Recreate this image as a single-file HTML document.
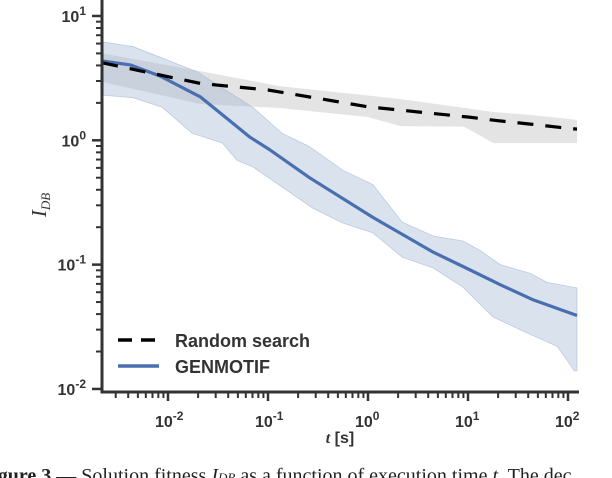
<!DOCTYPE html>
<html><head><meta charset="utf-8"><style>
html,body{margin:0;padding:0;background:#fff;width:612px;height:478px;overflow:hidden}
svg text{font-family:"Liberation Sans",sans-serif}
</style></head><body>
<svg width="612" height="478" viewBox="0 0 612 478">
<defs><clipPath id="pc"><rect x="102" y="0" width="478" height="392"/></clipPath></defs>
<g id="bands" clip-path="url(#pc)"></g>
<g id="lines" clip-path="url(#pc)"></g>
<g id="axes"></g>
<g>
 <line x1="118" y1="340" x2="159" y2="340" stroke="#000" stroke-width="3.5" stroke-dasharray="14,9"/>
 <text x="175" y="347" font-size="18" fill="#333" font-weight="bold">Random search</text>
 <line x1="118" y1="366" x2="159" y2="366" stroke="#4a6fb0" stroke-width="3.5"/>
 <text x="175" y="373" font-size="18" fill="#333" font-weight="bold">GENMOTIF</text>
</g>
<text transform="translate(46,205) rotate(-90)" text-anchor="middle" font-size="21" font-style="italic" fill="#333" style="font-family:'Liberation Serif',serif">I<tspan font-size="13" dy="4">DB</tspan></text>
<text x="340" y="443" text-anchor="middle" font-size="16" font-weight="bold" fill="#333"><tspan font-style="italic" style="font-family:'Liberation Serif',serif">t</tspan> [s]</text>
<text x="-20" y="482" font-size="20" fill="#222" style="font-family:'Liberation Serif',serif"><tspan font-weight="bold">Figure 3</tspan> — Solution fitness <tspan font-style="italic">I</tspan><tspan font-size="13" font-style="italic">DB</tspan> as a function of execution time <tspan font-style="italic">t</tspan>. The dec</text>
</svg>
<script>
const rsT=[0.0022,0.01,0.021,0.1,0.13,1,2.1,9,10,18,42,100,123];
const rsMean=[4.2,3.25,2.87,2.54,2.45,1.86,1.75,1.55,1.54,1.45,1.35,1.25,1.23];
const rsUpT=[0.0022,0.021,0.13,2.1,18,42,123];
const rsUp=[5.0,3.6,2.73,2.15,1.69,1.6,1.46];
const rsLoT=[0.0022,0.021,0.13,1.0,2.1,9.1,18,123];
const rsLo=[2.95,1.96,1.82,1.54,1.30,1.29,0.95,0.95];
const gmT=[0.0022,0.0042,0.0083,0.021,0.066,0.105,0.26,1.12,4.5,9.8,21,45,123];
const gmMean=[4.35,4.04,3.29,2.24,1.06,0.835,0.5,0.24,0.126,0.093,0.069,0.052,0.039];
const gmUpT=[0.0022,0.0045,0.0195,0.072,0.138,0.26,0.56,1.12,2.2,4.5,8.9,13.2,21,42,62,123];
const gmUp=[6.2,5.66,3.56,1.82,1.14,0.89,0.575,0.44,0.22,0.17,0.155,0.13,0.10,0.085,0.072,0.065];
const gmLoT=[0.0022,0.0045,0.0087,0.0174,0.035,0.049,0.071,0.28,0.56,1.12,2.2,4.5,8.9,17.8,33,78,98,115,123];
const gmLo=[2.31,2.2,1.85,1.14,0.95,0.69,0.61,0.285,0.216,0.18,0.115,0.094,0.066,0.038,0.030,0.022,0.017,0.014,0.014];
const xTicks=[0.01,0.1,1,10,100];
const xTickExp=["-2","-1","0","1","2"];
const yTicks=[10,1,0.1,0.01];
const yTickExp=["1","0","-1","-2"];
const NS="http://www.w3.org/2000/svg";
function X(t){return 368+100*Math.log10(t);}
function Y(v){return 140.3-124.33*Math.log10(v);}
function mk(tag,attrs,parent){const e=document.createElementNS(NS,tag);for(const k in attrs)e.setAttribute(k,attrs[k]);parent.appendChild(e);return e;}
function pts(ts,vs){return ts.map((t,i)=>X(t).toFixed(1)+","+Y(vs[i]).toFixed(1));}
const bands=document.getElementById('bands'),lines=document.getElementById('lines'),axes=document.getElementById('axes');
let p=mk('polygon',{points:pts(rsUpT,rsUp).concat(pts(rsLoT,rsLo).reverse()).join(' '),fill:'#b8b8b8','fill-opacity':'0.38'},bands);


p=mk('polygon',{points:pts(gmUpT,gmUp).concat(pts(gmLoT,gmLo).reverse()).join(' '),fill:'#9fb2d3','fill-opacity':'0.38',stroke:'#9fb2d3','stroke-opacity':'0.6','stroke-width':'0.8'},bands);


p=mk('polyline',{points:pts(gmT,gmMean).join(' '),fill:'none',stroke:'#4a6fb0','stroke-width':'3.2','stroke-linejoin':'round'},lines);


p=mk('polyline',{points:pts(rsT,rsMean).join(' '),fill:'none',stroke:'#000','stroke-width':'3.2','stroke-dasharray':'16,12'},lines);


p=mk('line',{x1:102,y1:0,x2:102,y2:393.5,stroke:'#333','stroke-width':3},axes);


p=mk('line',{x1:100.5,y1:392,x2:579,y2:392,stroke:'#333','stroke-width':3},axes);


for(let d=-3;d<=1;d++){for(let m=1;m<10;m++){const v=m*Math.pow(10,d);if(v<0.0098||v>10.5)continue;const y=Y(v);if(y<1)continue;const L=m==1?10:6;
 const t=mk('line',{x1:102-L,y1:y,x2:102,y2:y,stroke:'#333','stroke-width':m==1?2.5:2},axes);
 
 }}
yTicks.forEach((v,i)=>{const t=mk('text',{x:86,y:Y(v)+6,'text-anchor':'end','font-size':'16','font-weight':'bold',fill:'#333'},axes);
 t.textContent='10';
 const s=mk('tspan',{'font-size':'12',dy:'-7'},t);s.textContent=yTickExp[i];
 
 });
for(let d=-3;d<=2;d++){for(let m=1;m<10;m++){const v=m*Math.pow(10,d);const x=X(v);if(x<104||x>578)continue;const L=m==1?9:6;
 const t=mk('line',{x1:x,y1:392,x2:x,y2:392+L,stroke:'#333','stroke-width':m==1?2.5:2},axes);
 
 }}
xTicks.forEach((v,i)=>{const t=mk('text',{x:X(v)-13,y:427,'text-anchor':'start','font-size':'16','font-weight':'bold',fill:'#333'},axes);
 t.textContent='10';
 const s=mk('tspan',{'font-size':'12',dy:'-7'},t);s.textContent=xTickExp[i];
 
 });
</script>
</body></html>
